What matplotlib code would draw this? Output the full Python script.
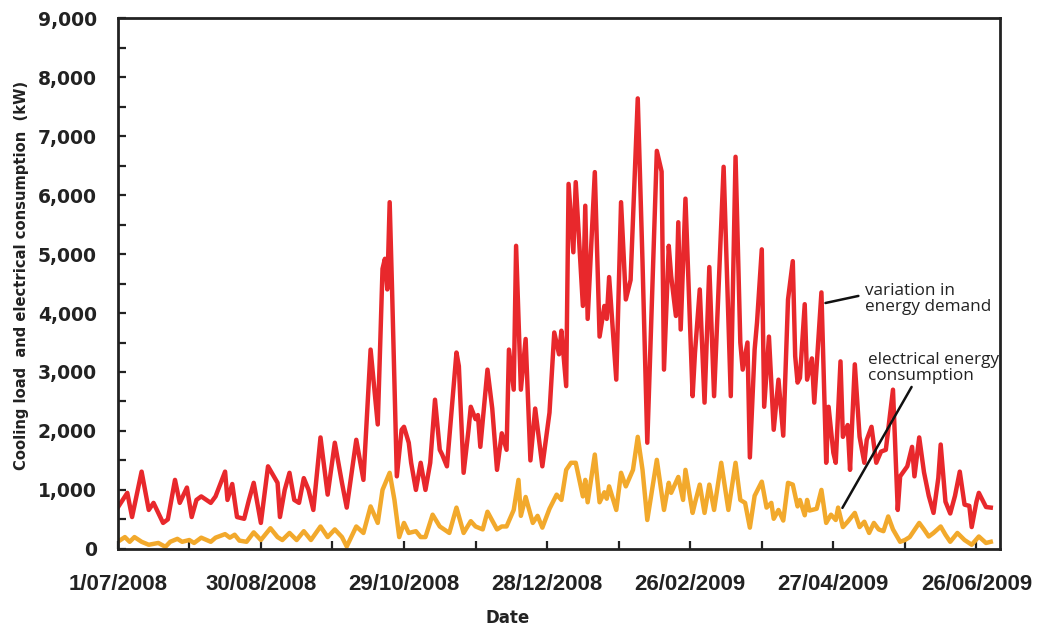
import matplotlib
matplotlib.use("Agg")
import matplotlib.pyplot as plt
import matplotlib.ticker as mticker
import matplotlib.dates as mdates
import numpy as np
import pandas as pd

start = pd.Timestamp("2008-07-01")

# cooling load (red) - day offset from 1/07/2008, kW
load_days = [0, 4, 6, 10, 13, 15, 19, 21, 24, 26, 29, 31, 33, 35, 39, 41, 45, 46, 48, 50,
             53, 55, 57, 60, 63, 67, 68, 70, 72, 74, 76, 78, 80, 82, 85, 88, 91, 94, 96, 100,
             103, 106, 109, 111, 112, 113, 114, 115, 117, 119, 120, 122, 123, 125, 127, 129, 131, 133, 135, 136,
             138, 140, 142, 143, 145, 147, 148, 150, 151, 152, 155, 157, 159, 161, 163, 164, 166, 167, 169, 171,
             173, 175, 178, 181, 183, 185, 186, 188, 189, 191, 192, 195, 196, 197, 200, 202, 204, 205, 206, 209,
             211, 213, 215, 218, 220, 222, 226, 228, 229, 231, 232, 234, 235, 236, 238, 241, 242, 244, 246, 248,
             250, 254, 257, 259, 261, 262, 264, 265, 267, 268, 270, 271, 273, 275, 277, 279, 281, 283, 284, 285,
             286, 288, 289, 291, 292, 295, 297, 298, 300, 301, 303, 304, 306, 307, 309, 311, 313, 314, 316, 318,
             320, 322, 325, 327, 328, 331, 333, 334, 336, 338, 340, 342, 344, 345, 347, 349, 351, 353, 355, 357,
             358, 360, 361, 364, 366]
load_kw = [700, 950, 540, 1310, 660, 780, 440, 500, 1170, 780, 1040, 540, 830, 890, 780, 890, 1310, 830, 1100, 540,
           510, 830, 1120, 440, 1400, 1120, 540, 1000, 1290, 830, 780, 1200, 1000, 660, 1890, 920, 1800, 1120, 700, 1850,
           1170, 3380, 2110, 4750, 4920, 4400, 5880, 4400, 1230, 2020, 2070, 1800, 1460, 1000, 1460, 1000, 1460, 2530, 1680, 1600,
           1400, 2360, 3330, 3100, 1290, 2000, 2410, 2200, 2270, 1730, 3040, 2380, 1340, 1960, 1680, 3380, 2700, 5140, 2700, 3560,
           1500, 2380, 1400, 2310, 3670, 3300, 3700, 2760, 6190, 5030, 6220, 4120, 5820, 3900, 6390, 3600, 4120, 3900, 4610, 2870,
           5880, 4230, 4560, 7640, 4860, 1800, 6750, 6400, 3040, 5140, 4630, 3950, 5540, 3720, 5940, 2590, 3330, 4400, 2480, 4780,
           2590, 6480, 2590, 6650, 3500, 3040, 3500, 1550, 3380, 3840, 5080, 2410, 3600, 2020, 2870, 1920, 4230, 4880, 3270, 2820,
           2900, 4150, 2870, 3230, 2480, 4350, 1460, 2410, 1630, 1460, 3180, 1900, 2100, 1340, 3130, 1900, 1460, 1850, 2070, 1460,
           1650, 1680, 2700, 660, 1230, 1400, 1730, 1230, 1890, 1300, 900, 610, 1200, 1770, 800, 600, 900, 1310, 750, 730,
           370, 800, 950, 710, 700]

# electrical consumption (orange)
elec_days = [0, 3, 5, 7, 10, 13, 17, 20, 22, 25, 27, 30, 32, 35, 39, 41, 45, 47, 49, 51,
             54, 57, 60, 64, 67, 69, 72, 75, 78, 81, 85, 88, 91, 94, 96, 100, 103, 106, 109, 111,
             114, 116, 118, 120, 122, 125, 127, 129, 132, 135, 139, 142, 145, 148, 150, 153, 155, 159, 161, 163,
             166, 168, 169, 171, 174, 176, 178, 181, 184, 186, 188, 190, 192, 195, 196, 197, 200, 202, 204, 205,
             206, 209, 211, 213, 216, 218, 220, 222, 226, 229, 231, 232, 235, 237, 238, 241, 242, 244, 246, 248,
             250, 253, 256, 259, 261, 263, 265, 267, 270, 272, 274, 275, 277, 279, 281, 283, 285, 286, 288, 289,
             290, 293, 295, 297, 299, 301, 302, 304, 306, 309, 311, 313, 315, 317, 319, 321, 323, 325, 328, 330,
             332, 334, 336, 338, 340, 342, 345, 347, 349, 352, 355, 358, 361, 364, 366]
elec_kw = [120, 200, 120, 200, 120, 70, 100, 35, 120, 170, 120, 150, 100, 190, 120, 190, 250, 190, 240, 140,
           120, 280, 150, 350, 200, 150, 270, 150, 300, 150, 380, 200, 330, 200, 40, 380, 270, 720, 440, 1000,
           1290, 830, 200, 440, 270, 300, 200, 200, 580, 380, 270, 700, 270, 470, 380, 330, 630, 330, 380, 380,
           660, 1170, 560, 880, 440, 560, 360, 680, 920, 830, 1340, 1460, 1460, 890, 1170, 790, 1600, 790, 960, 850,
           1060, 660, 1290, 1060, 1340, 1900, 1340, 490, 1510, 660, 1120, 950, 1220, 830, 1340, 610, 780, 1090, 610, 1090,
           660, 1460, 660, 1460, 830, 780, 360, 900, 1140, 700, 780, 510, 660, 480, 1120, 1090, 720, 830, 570, 830,
           650, 680, 1000, 440, 580, 490, 700, 370, 460, 610, 370, 460, 270, 440, 330, 300, 550, 330, 120, 150,
           200, 320, 440, 330, 210, 270, 380, 240, 120, 270, 150, 70, 210, 100, 120]

tick_offsets = [0, 60, 120, 180, 240, 300, 360]

load_dates = start + pd.to_timedelta(load_days, unit="D")
elec_dates = start + pd.to_timedelta(elec_days, unit="D")
tick_dates = start + pd.to_timedelta(tick_offsets, unit="D")
minor_dates = start + pd.to_timedelta(np.arange(0, 371, 30), unit="D")

fig = plt.figure(figsize=(10.42, 6.28), dpi=100)
ax = fig.add_axes([0.113, 0.126, 0.847, 0.845])

ax.plot(load_dates, load_kw, color="#e8282c", lw=3.2, solid_joinstyle="round")
ax.plot(elec_dates, elec_kw, color="#f2a92c", lw=3.2, solid_joinstyle="round")

ax.set_xlim(start, start + pd.Timedelta(days=370))
ax.set_ylim(0, 9000)

ax.xaxis.set_major_locator(mticker.FixedLocator(mdates.date2num(tick_dates)))
ax.xaxis.set_minor_locator(mticker.FixedLocator(mdates.date2num(minor_dates)))
ax.xaxis.set_major_formatter(mticker.FuncFormatter(
    lambda v, p: (lambda d: f"{d.day}/{d.month:02d}/{d.year}")(mdates.num2date(v))))
ax.yaxis.set_major_locator(mticker.MultipleLocator(1000))
ax.yaxis.set_minor_locator(mticker.MultipleLocator(500))
ax.yaxis.set_major_formatter(mticker.FuncFormatter(lambda v, p: f"{int(v):,}"))

ax.tick_params(axis="both", which="both", direction="in", color="#222222", width=1.6, length=6)
ax.tick_params(axis="y", pad=15, labelsize=13.5, labelcolor="#222222")
ax.tick_params(axis="x", pad=18, labelcolor="#222222")
for lab in ax.get_yticklabels():
    lab.set_fontweight("bold")
for lab in ax.get_xticklabels():
    lab.set_fontfamily("Liberation Sans")
    lab.set_fontweight("bold")
    lab.set_fontsize(16)

for s in ax.spines.values():
    s.set_linewidth(2.0)
    s.set_color("#222222")

ax.set_xlabel("Date", fontsize=12, fontweight="bold", color="#222222")
ax.xaxis.set_label_coords(0.442, -0.113)
ax.set_ylabel("Cooling load  and electrical consumption  (kW)", fontsize=10.6,
              fontweight="bold", color="#222222")
ax.yaxis.set_label_coords(-0.100, 0.516)

# annotations
ax.annotate("", xy=(start + pd.Timedelta(days=296.7), 4170),
            xytext=(start + pd.Timedelta(days=310.5), 4290),
            arrowprops=dict(arrowstyle="-", color="#111111", lw=1.8, shrinkA=0, shrinkB=0))
ax.text(start + pd.Timedelta(days=313.3), 4240, "variation in\nenergy demand",
        fontsize=12.3, family="Open Sans", color="#222222", va="center", ha="left",
        linespacing=1.0)
ax.annotate("", xy=(start + pd.Timedelta(days=303.8), 695),
            xytext=(start + pd.Timedelta(days=332.8), 2746),
            arrowprops=dict(arrowstyle="-", color="#111111", lw=1.8, shrinkA=0, shrinkB=0))
ax.text(start + pd.Timedelta(days=314.5), 3068, "electrical energy\nconsumption",
        fontsize=12.3, family="Open Sans", color="#222222", va="center", ha="left",
        linespacing=1.0)

fig.savefig("out.png", dpi=100)
